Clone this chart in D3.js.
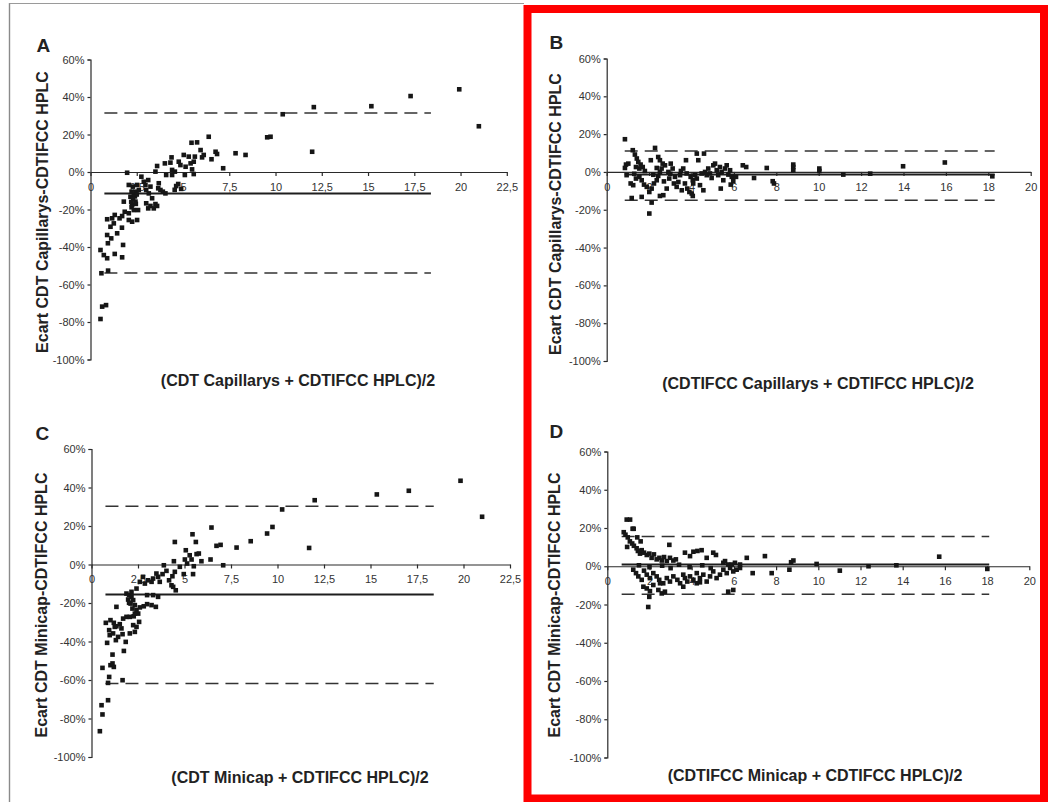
<!DOCTYPE html>
<html>
<head>
<meta charset="utf-8">
<script src="https://cdn.jsdelivr.net/npm/d3@7"></script>
<style>
  body { margin: 0; background: #fff; }
  svg { display: block; font-family: Arial, "Liberation Sans", sans-serif; }
  .tick text { fill: #333; font-size: 11px; }
  .tick line, .domain { stroke: #2a2a2a; stroke-width: 1.2; }
  .title { font-weight: bold; font-size: 16px; fill: #222; }
  .letter { font-weight: bold; font-size: 19px; fill: #222; }
</style>
</head>
<body>
<svg width="1048" height="802"></svg>
<script>
// DATA

const PANEL_LETTERS = ["A", "B", "C", "D"];
const Y_TITLES = [
  "Ecart CDT Capillarys-CDTIFCC HPLC",
  "Ecart CDT Capillarys-CDTIFCC HPLC",
  "Ecart CDT Minicap-CDTIFCC HPLC",
  "Ecart CDT Minicap-CDTIFCC HPLC"
];
const X_TITLES = [
  "(CDT Capillarys + CDTIFCC HPLC)/2",
  "(CDTIFCC Capillarys + CDTIFCC HPLC)/2",
  "(CDT Minicap + CDTIFCC HPLC)/2",
  "(CDTIFCC Minicap + CDTIFCC HPLC)/2"
];
const Y_TICKS = [-100, -80, -60, -40, -20, 0, 20, 40, 60];
const X_TICKS_WIDE = [0, 2.5, 5, 7.5, 10, 12.5, 15, 17.5, 20, 22.5];   // A, C
const X_TICKS_NARROW = [0, 2, 4, 6, 8, 10, 12, 14, 16, 18, 20];       // B, D

// mean difference and limits of agreement (%), and where the lines run (x)
const MEAN_DIFF = [-11.4, -1.4, -15.6, 0.9];
const UPPER_LIMIT = [31.5, 11.1, 30.3, 15.5];
const LOWER_LIMIT = [-53.8, -15.0, -61.8, -14.6];
const LINE_START = [0.75, 0.85, 0.75, 0.68];
const LINE_END = [18.4, 18.3, 18.4, 18.1];

const pointsA = [[0.54,-78.4],[0.63,-71.8],[0.84,-71],[0.59,-54],[0.95,-52.6],[0.54,-41.6],[0.72,-44.3],[0.9,-46],[1.31,-43.7],[1.71,-45.5],[1.76,-38.9],[0.94,-38],[1.12,-35.4],[0.9,-33.6],[1.44,-32.7],[1.7,-29.7],[1.08,-29.2],[1.26,-27.4],[1.17,-24.7],[0.9,-25.2],[1.31,-22.9],[1.57,-24.7],[1.71,-23.5],[1.85,-21.2],[1.8,-15.8],[2.07,-22],[2.22,-18.8],[2.07,-25.6],[2.25,-26.5],[2.52,-25.6],[2.34,-20.3],[2.57,-20.3],[2.25,-17.6],[2.43,-15.8],[2.16,-13.2],[2.34,-12.3],[2.22,-10.5],[2.43,-10.5],[2.61,-9.6],[2.29,-7.8],[2.52,-6.9],[2.07,-6.9],[1.98,-0.4],[2.75,-2.5],[2.88,-5.2],[3.12,-4.3],[2.97,-6.9],[3.24,-7.8],[3.01,-9.6],[3.15,-11.4],[3.01,-16.7],[3.24,-18.1],[3.12,-19.4],[3.42,-19.4],[3.33,-14],[3.51,-17.1],[3.6,-18.1],[3.51,0.2],[3.6,3.2],[3.69,-6],[3.66,-8.7],[3.78,-9.6],[3.91,-10.5],[4.05,-11.4],[4.02,4.6],[4.09,-1.6],[4.32,5],[4.41,1.1],[4.41,-1.6],[4.56,0.2],[4.38,7.8],[4.63,-7.5],[4.74,-6.4],[4.77,5.5],[4.86,3.7],[5.04,9.1],[5.1,-1.6],[5.14,2.8],[5.31,8.2],[5.41,4.6],[5.49,1.4],[5.58,5.5],[5.58,-1.1],[5.64,8.2],[5.46,15.6],[5.76,15.8],[5.95,11.7],[6.03,7.8],[6.12,9.1],[6.39,18.8],[6.54,6.8],[6.76,10.8],[6.84,9.6],[7.17,2],[7.84,10],[8.38,9.1],[9.55,18.5],[9.73,18.8],[10.39,30.8],[12.07,34.6],[11.98,10.8],[15.18,35.1],[17.3,40.5],[19.93,44.1],[20.99,24.4],[2.4,-13],[2.3,-14.5],[2.5,-12],[2.2,-16],[2.45,-17],[4.55,-9.5],[4.9,-9]];

const pointsB = [[0.86,17.3],[0.91,3.9],[0.86,2.1],[1.02,4.4],[1.23,11.5],[1.33,9.2],[1.42,7.1],[1.49,5.3],[1.6,3.9],[1.7,2.6],[1.54,1.8],[1.38,2.6],[0.94,-1.7],[1.13,-6.1],[1.25,-7],[1.38,-3.5],[1.54,-2.6],[1.65,-4.4],[1.76,-6.7],[1.89,-7.9],[2.01,-10.6],[2.12,-8.8],[2.23,-6.1],[2.36,-4.4],[2.43,-2.1],[2.51,0],[2.59,1.8],[2.28,12.7],[2.08,6.2],[2.43,7.9],[2.51,6.2],[2.64,4.4],[2.75,3.5],[2.36,2.1],[1.18,-13.8],[1.65,-13.2],[2.12,-16.2],[2.01,-22],[2.51,-12.7],[2.67,-12.3],[2.83,-8.8],[2.91,0],[2.95,-3.5],[3.02,4.4],[3.11,1.8],[3.17,-6.1],[3.22,-2.6],[3.3,-7.9],[3.38,-5.3],[3.46,-1.7],[3.54,-9.7],[3.61,1.8],[3.69,-6.1],[3.77,-0.8],[3.74,6.2],[3.8,-8.8],[3.9,-10.6],[3.96,-2.6],[4.06,-4.4],[4.08,-6.1],[4.17,-1.7],[4.25,-3.5],[4.25,9.7],[4.32,6.2],[4.4,-7],[4.48,-0.8],[4.56,-9.7],[4.06,-12.7],[4.01,-11.4],[4.59,9.7],[4.64,0],[4.72,-1.7],[4.79,1.8],[4.87,-0.8],[4.95,-3.2],[5.03,3.5],[5.11,4.4],[5.19,0.9],[5.26,-1.7],[5.34,2.6],[5.42,0],[5.5,-4.4],[5.58,1.8],[5.66,3.5],[5.74,-1.4],[5.82,0.9],[5.9,-2.6],[5.38,-8.8],[5.85,-6.7],[5.97,-4.9],[6.1,-2.6],[6.42,3.5],[6.58,2.6],[6.95,-3.2],[7.55,2.1],[7.83,-4.9],[7.89,-6.1],[8.8,3.9],[8.8,2.6],[8.8,0.9],[10.03,1.8],[10.03,0.5],[11.16,-1.4],[12.43,-0.9],[13.98,3],[15.95,5],[18.19,-2.3],[1.3,-1],[1.8,0.5],[2.2,-1.5],[3.0,-1],[3.5,0.5],[2.7,-5]];

const pointsC = [[0.45,-86.6],[0.59,-77.9],[0.54,-73.1],[0.89,-70.5],[0.89,-61.5],[0.95,-58.4],[1.67,-60.1],[0.59,-53.7],[1.02,-52.3],[1.2,-53.2],[1.13,-51.4],[1.13,-46.8],[1.74,-44.9],[0.84,-40.7],[1.31,-39.3],[1.67,-36.2],[1.84,-40.2],[2.06,-35.8],[2.33,-35],[2.42,-32.4],[2.56,-29.8],[2.24,-31.5],[0.98,-36.7],[1.16,-35.8],[1.25,-32.4],[0.95,-34.1],[0.77,-30.3],[1.02,-28.9],[1.2,-30.3],[1.34,-32.1],[1.52,-31],[1.61,-33.2],[1.43,-37.6],[1.7,-28.1],[1.88,-27.2],[2.06,-27.2],[2.27,-26.9],[1.34,-22],[1.88,-15.1],[2.02,-15.9],[2.15,-16.8],[1.97,-18.2],[2.24,-18.5],[2.1,-20.3],[2.33,-21.1],[2.2,-22.9],[2.42,-23.7],[2.51,-25.5],[2.33,-25.5],[2.6,-22.3],[2.02,-19.9],[2.15,-14.2],[2.81,-21.7],[2.99,-20.6],[3.23,-21.1],[3.46,-22],[2.99,-15.9],[3.31,-15.9],[3.58,-16.8],[2.42,-12.5],[2.6,-9],[2.77,-6.4],[2.87,-9.9],[3.04,-8.2],[3.23,-9],[3.31,-7.3],[3.58,-6.4],[3.67,-9],[3.49,-4.7],[3.82,-5],[3.89,-0.4],[4.03,-3.3],[4.17,-8.2],[4.3,-10.8],[4.39,-11.6],[4.53,-13.4],[4.35,-6.1],[4.48,-3.8],[4.43,1.7],[4.48,11.7],[4.75,-1.2],[4.96,-5],[5.02,2.6],[5.07,7.4],[5.14,0.5],[5.28,4.8],[5.38,2.6],[5.46,-5],[5.5,-0.9],[5.43,15.7],[5.61,11.7],[5.65,5.4],[5.77,5.7],[5.91,1.7],[6.45,19.2],[6.4,2.6],[6.72,9.7],[6.94,10.2],[7.08,-0.4],[7.8,8.8],[8.56,12.1],[9.44,16.1],[9.73,19.5],[10.25,28.6],[11.7,8.6],[12.0,33.4],[15.34,36.4],[17.06,38.3],[19.84,43.5],[21.0,24.8]];

const pointsD = [[0.92,24.4],[1.08,24.4],[1.2,19.6],[1.25,19.6],[0.78,17.8],[0.86,16.5],[0.97,15.1],[1.07,13],[1.18,11.9],[0.94,10.1],[1.26,10.7],[1.39,9.4],[1.45,8],[1.55,6.6],[1.42,15.1],[1.58,13],[1.63,8.4],[1.74,7.1],[1.87,5.9],[1.99,6.6],[2.1,4.4],[2.21,6.2],[2.34,3.6],[2.47,4.4],[2.58,3],[2.69,4.8],[2.82,2.7],[2.97,4.4],[3.13,3],[3.25,3.6],[2.94,11.2],[1.23,-1.8],[1.36,-3.6],[1.47,-5.3],[1.63,-7.1],[1.74,-2.3],[1.87,-4.4],[2.02,-6.2],[2.18,-3.6],[2.34,-5.3],[2.46,-7.1],[2.65,-8.9],[2.82,-6.2],[2.97,-8],[3.13,-5.3],[3.32,-7.1],[3.45,-8.9],[3.6,-4.4],[3.68,-6.2],[3.79,-8],[3.92,-5.3],[4.08,-7.1],[4.24,-3.6],[4.39,-6.2],[4.55,-4.4],[4.71,-8],[4.87,-5.3],[5.02,-2.7],[5.18,-6.2],[5.34,-4.4],[5.5,-1.8],[5.66,-3.6],[5.82,-0.9],[5.97,-2.7],[6.13,-1.8],[6.29,-0.9],[1.71,-10.7],[1.87,-11.6],[2.02,-13],[1.99,-16],[2.18,-9.8],[2.42,-12.4],[2.58,-14.2],[2.73,-13.3],[2.5,-8.9],[3.6,-10.7],[4.24,-8.9],[4.39,-8.4],[5.73,-13.3],[5.97,-12.4],[1.94,-21.3],[3.68,7.1],[3.92,5.3],[4.08,7.6],[4.27,8],[4.47,8.4],[4.71,4.4],[5.02,7.1],[5.15,5.9],[5.5,1.8],[5.58,2.7],[5.73,0.9],[5.9,0.9],[6.05,1.8],[6.29,0.9],[6.61,4.4],[6.89,-3.6],[7.47,5.3],[7.79,-3.6],[8.63,-1.8],[8.71,2.1],[8.82,3],[9.92,1.2],[11.02,-2.3],[12.38,0],[13.7,0.5],[15.73,5],[18.01,-1.4],[1.5,0.5],[2.0,-0.5],[2.6,0.3],[3.0,-1],[3.4,0.8],[3.9,-0.5],[4.5,0.5],[4.9,-1]];

const POINTS = [pointsA, pointsB, pointsC, pointsD];
const X_TICKS = [X_TICKS_WIDE, X_TICKS_NARROW, X_TICKS_WIDE, X_TICKS_NARROW];

// LAYOUT (pixel frames for each panel, measured on the scan)
const FRAMES = [
  {x0: 90.5, x1: 506.8, yTop: 59.5, yBot: 359.5, letter: [36.5, 52], yTitle: [47.5, 212], xTitle: [298, 386]},
  {x0: 606.7, x1: 1030.7, yTop: 58.5, yBot: 361, letter: [549.5, 49], yTitle: [561, 214], xTitle: [818, 389]},
  {x0: 91.5, x1: 510, yTop: 449, yBot: 757, letter: [35.5, 440], yTitle: [47, 605], xTitle: [300, 783]},
  {x0: 607.3, x1: 1029.3, yTop: 451.5, yBot: 757.5, letter: [549.5, 438], yTitle: [560, 605], xTitle: [815, 781]}
];
const MARK = 4.6;

const svg = d3.select("svg");

// page edge of the scan and the red highlight box
svg.append("line").attr("x1", 9.5).attr("x2", 9.5).attr("y1", 3).attr("y2", 802)
  .attr("stroke", "#8a8a8a").attr("stroke-width", 1.4);
svg.append("line").attr("x1", 9.5).attr("x2", 524).attr("y1", 3.5).attr("y2", 3.5)
  .attr("stroke", "#9a9a9a").attr("stroke-width", 1);
svg.append("rect").attr("x", 527.5).attr("y", 9).attr("width", 516.5).attr("height", 789.5)
  .attr("fill", "none").attr("stroke", "#ff0000").attr("stroke-width", 8);

PANEL_LETTERS.forEach((letter, i) => drawPanel(i));

function drawPanel(i) {
  const f = FRAMES[i];
  const xTicks = X_TICKS[i];
  const xMax = xTicks[xTicks.length - 1];
  const x = d3.scaleLinear().domain([0, xMax]).range([f.x0, f.x1]);
  const y = d3.scaleLinear().domain([-100, 60]).range([f.yBot, f.yTop]);
  const g = svg.append("g");

  // y axis
  g.append("g")
    .attr("transform", `translate(${f.x0},0)`)
    .call(d3.axisLeft(y).tickValues(Y_TICKS).tickSize(3).tickSizeOuter(3).tickPadding(3)
      .tickFormat(d => d + "%"));

  // x axis along the 0% line
  g.append("g")
    .attr("transform", `translate(0,${y(0)})`)
    .call(d3.axisBottom(x).tickValues(xTicks).tickSize(4).tickSizeOuter(0).tickPadding(7)
      .tickFormat(d => String(d).replace(".", ",")));

  // limits of agreement (dashed) and mean difference (solid)
  [UPPER_LIMIT[i], LOWER_LIMIT[i]].forEach(v => {
    g.append("line")
      .attr("x1", x(LINE_START[i])).attr("x2", x(LINE_END[i]))
      .attr("y1", y(v)).attr("y2", y(v))
      .attr("stroke", "#333").attr("stroke-width", 1.5)
      .attr("stroke-dasharray", "13,7");
  });
  g.append("line")
    .attr("x1", x(LINE_START[i])).attr("x2", x(LINE_END[i]))
    .attr("y1", y(MEAN_DIFF[i])).attr("y2", y(MEAN_DIFF[i]))
    .attr("stroke", "#1e1e1e").attr("stroke-width", 2);

  // data points
  g.selectAll(".pt")
    .data(POINTS[i])
    .enter()
    .append("rect")
    .attr("class", "pt")
    .attr("x", d => x(d[0]) - MARK / 2)
    .attr("y", d => y(d[1]) - MARK / 2)
    .attr("width", MARK)
    .attr("height", MARK)
    .attr("fill", "#161616");

  // texts
  g.append("text").attr("class", "letter")
    .attr("x", f.letter[0]).attr("y", f.letter[1]).text(PANEL_LETTERS[i]);
  g.append("text").attr("class", "title")
    .attr("text-anchor", "middle")
    .attr("transform", `translate(${f.yTitle[0]},${f.yTitle[1]}) rotate(-90)`)
    .text(Y_TITLES[i]);
  g.append("text").attr("class", "title")
    .attr("text-anchor", "middle")
    .attr("x", f.xTitle[0]).attr("y", f.xTitle[1])
    .text(X_TITLES[i]);
}
</script>
</body>
</html>
